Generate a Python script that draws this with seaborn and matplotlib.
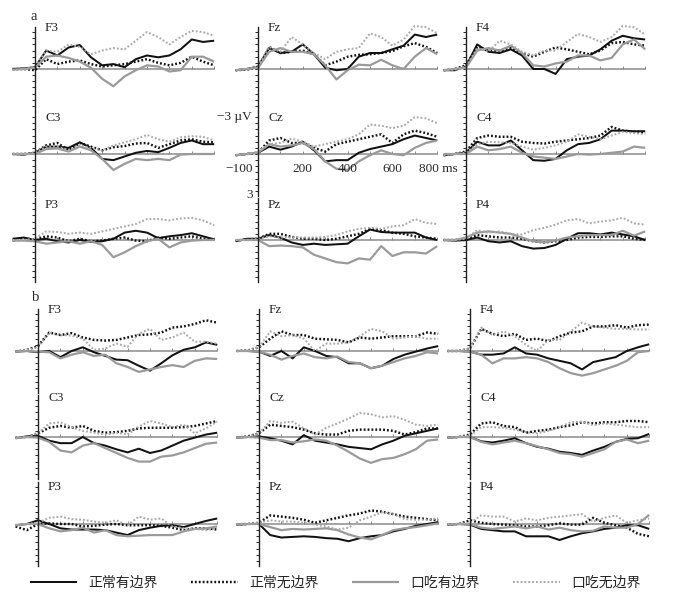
import numpy as np
import pandas as pd
import matplotlib
matplotlib.use("Agg")
import matplotlib.pyplot as plt
import seaborn as sns
from matplotlib.font_manager import FontProperties

# ---------------- data (µV, negative plotted upward) ----------------
times = [-100, -50, 0, 50, 100, 150, 200, 250, 300, 350, 400, 450, 500, 550, 600, 650, 700, 750, 800]
conditions = ["正常有边界", "正常无边界", "口吃有边界", "口吃无边界"]
electrodes = ["F3", "Fz", "F4", "C3", "Cz", "C4", "P3", "Pz", "P4"]
part_labels = ["a", "b"]

# part a
a_F3_nb = [0, -0.05, -0.15, -1.5, -1.1, -1.75, -1.95, -0.95, -0.3, -0.4, -0.15, -0.8, -1.1, -0.95, -1.1, -1.6, -2.4, -2.2, -2.3]
a_F3_nn = [0, 0, 0.1, -0.8, -0.4, -0.6, -0.7, -0.4, -0.2, -0.3, -0.4, -0.6, -0.8, -0.5, -0.3, -0.5, -1.0, -0.6, -0.3]
a_F3_sb = [0.05, 0, -0.1, -1.0, -1.1, -0.9, -0.6, -0.1, 0.8, 1.4, 0.6, 0.1, -0.3, -0.2, 0.2, 0.1, -1.0, -1.0, -0.6]
a_F3_sn = [0.1, 0, -0.2, -1.5, -1.4, -2.0, -1.8, -1.2, -1.5, -1.7, -1.6, -2.3, -3.0, -2.6, -2.0, -2.6, -3.1, -3.0, -2.7]

a_Fz_nb = [0.1, 0, -0.2, -1.7, -1.3, -1.4, -2.0, -1.2, -0.1, 0.1, 0.0, -1.0, -1.3, -1.3, -1.6, -1.9, -2.8, -2.6, -2.8]
a_Fz_nn = [0.1, 0.05, -0.1, -1.8, -1.3, -1.4, -1.5, -1.2, -0.3, -0.6, -1.0, -1.15, -1.2, -1.3, -1.45, -1.85, -2.1, -1.8, -1.3]
a_Fz_sb = [0.1, 0, -0.1, -1.4, -1.7, -1.4, -1.4, -1.2, -0.3, 0.85, 0.1, -0.35, -0.3, -0.75, -0.3, 0.0, -1.0, -1.7, -1.2]
a_Fz_sn = [0.1, 0, -0.2, -1.8, -1.4, -2.6, -2.0, -1.3, -0.8, -1.4, -1.6, -1.7, -2.9, -2.6, -1.9, -2.4, -3.5, -3.4, -2.9]

a_F4_nb = [0.1, 0.1, -0.2, -2.0, -1.4, -1.3, -1.6, -1.1, 0.0, 0.0, 0.4, -0.8, -1.0, -1.1, -1.6, -2.3, -2.7, -2.5, -2.4]
a_F4_nn = [0.1, 0, -0.3, -1.8, -1.5, -1.5, -1.7, -1.3, -1.0, -1.4, -1.75, -1.6, -1.4, -1.2, -1.5, -2.1, -2.2, -2.0, -1.9]
a_F4_sb = [0.1, 0, -0.1, -1.5, -1.7, -1.5, -1.9, -1.3, -0.3, -0.2, -0.45, -0.6, -1.1, -1.1, -0.7, -0.9, -2.0, -2.4, -1.6]
a_F4_sn = [0.1, 0.05, -0.2, -1.7, -1.4, -2.3, -2.0, -1.4, -1.1, -1.5, -1.5, -2.2, -2.85, -2.6, -2.2, -2.6, -3.5, -3.4, -2.8]

a_C3_nb = [0, 0.05, -0.1, -0.6, -0.6, -0.5, -0.95, -0.5, 0.4, 0.5, 0.2, -0.1, -0.25, -0.15, -0.5, -0.9, -1.1, -0.8, -0.8]
a_C3_nn = [0, 0, -0.1, -0.7, -0.9, -0.3, -0.9, -0.6, -0.3, -0.55, -0.65, -0.85, -0.9, -0.5, -0.8, -1.1, -1.2, -1.0, -0.95]
a_C3_sb = [0, 0, 0, -0.4, -0.45, -0.2, -0.6, -0.3, 0.4, 1.3, 0.8, 0.4, 0.5, 0.4, 0.5, 0.05, 0, 0, 0]
a_C3_sn = [0, 0, -0.1, -0.6, -0.6, -0.3, -0.7, -0.5, -0.3, -0.7, -0.95, -1.2, -1.55, -1.2, -1.0, -1.35, -1.45, -1.4, -1.1]

a_Cz_nb = [0.1, 0, -0.1, -0.6, -0.35, -0.6, -1.0, -0.3, 0.6, 0.5, 0.5, -0.1, -0.4, -0.6, -0.8, -1.2, -1.5, -1.3, -1.1]
a_Cz_nn = [0.1, 0, -0.1, -1.1, -1.3, -0.9, -0.9, -0.5, -0.2, -0.8, -1.0, -1.2, -1.4, -1.6, -0.9, -1.6, -1.9, -1.7, -1.4]
a_Cz_sb = [0.1, 0, -0.1, -0.8, -0.6, -0.7, -0.9, -0.4, 0.6, 1.2, 1.3, 0.6, 0.1, -0.3, 0.0, 0.1, -0.5, -0.9, -1.1]
a_Cz_sn = [0.1, 0, -0.2, -0.8, -0.9, -1.25, -1.0, -0.6, -0.8, -1.0, -1.2, -1.6, -2.4, -2.3, -2.1, -2.3, -3.0, -2.9, -2.5]

a_C4_nb = [0.1, 0, -0.1, -1.0, -0.7, -0.7, -1.1, -0.3, 0.5, 0.55, 0.4, -0.3, -0.8, -0.9, -1.2, -1.9, -1.9, -1.85, -1.85]
a_C4_nn = [0.1, 0, -0.2, -1.3, -1.5, -1.4, -1.4, -1.0, -0.9, -0.85, -1.0, -1.1, -1.2, -1.3, -1.5, -2.2, -1.9, -1.8, -1.75]
a_C4_sb = [0, 0, 0, -0.6, -0.3, -0.4, -0.6, -0.1, 0.2, 0.3, 0.4, 0.2, 0, 0.05, 0, -0.1, -0.2, -0.6, -0.5]
a_C4_sn = [0.1, 0, -0.1, -0.8, -1.0, -0.95, -0.9, -0.6, -0.35, -0.5, -0.7, -1.0, -1.6, -1.4, -1.2, -1.5, -1.8, -1.7, -1.6]

a_P3_nb = [-0.1, -0.2, 0, -0.1, 0.1, 0.2, 0, 0.15, 0.1, -0.1, -0.6, -0.75, -0.6, -0.15, -0.3, -0.4, -0.55, -0.3, -0.05]
a_P3_nn = [0.05, -0.1, -0.05, -0.3, -0.2, 0.1, -0.1, 0.1, 0.05, -0.1, -0.2, 0.05, 0.1, -0.2, -0.1, -0.2, -0.3, -0.1, 0]
a_P3_sb = [0.05, 0.05, 0.1, 0.3, 0.2, 0.1, 0.3, 0.1, 0.4, 1.4, 1.0, 0.5, 0.1, -0.1, 0.6, 0.2, 0.05, 0, 0]
a_P3_sn = [0, 0, -0.1, -0.7, -0.65, -0.5, -0.6, -0.5, -0.7, -0.9, -1.1, -1.3, -1.7, -1.7, -1.6, -1.75, -1.8, -1.6, -1.2]

a_Pz_nb = [0.1, -0.1, -0.1, -0.4, -0.2, 0.2, 0.4, 0.3, 0.4, 0.35, 0.3, -0.3, -0.85, -0.65, -0.6, -0.6, -0.6, -0.2, 0]
a_Pz_nn = [0.05, -0.05, -0.1, -0.5, -0.5, -0.25, -0.1, -0.1, 0, -0.1, -0.3, -0.5, -0.9, -0.8, -0.6, -0.5, -0.3, -0.2, -0.1]
a_Pz_sb = [0, 0, 0, 0.5, 0.45, 0.5, 0.6, 1.2, 1.5, 1.8, 1.9, 1.5, 1.6, 0.5, 1.3, 1.0, 1.0, 1.1, 0.5]
a_Pz_sn = [0, 0, -0.1, -0.3, -0.2, -0.2, -0.2, -0.2, -0.25, -0.4, -0.7, -0.9, -1.0, -0.9, -1.1, -1.2, -1.7, -1.4, -1.3]

a_P4_nb = [0, 0.05, 0, -0.2, 0.1, 0.2, 0.1, 0.5, 0.7, 0.65, 0.4, -0.1, -0.55, -0.55, -0.45, -0.6, -0.45, -0.3, 0]
a_P4_nn = [0, 0, 0, -0.4, -0.3, -0.2, -0.2, -0.1, 0.1, 0.2, 0.1, 0, -0.2, -0.25, -0.25, -0.3, -0.3, -0.1, 0]
a_P4_sb = [0, 0, -0.2, -0.6, -0.7, -0.6, -0.5, -0.2, 0.1, 0.2, 0.05, -0.2, -0.3, -0.4, -0.4, -0.4, -0.75, -0.35, -0.7]
a_P4_sn = [0, 0, -0.1, -0.8, -0.6, -0.7, -0.5, -0.45, -0.8, -1.0, -1.25, -1.6, -1.7, -1.35, -1.5, -1.6, -1.8, -1.35, -1.25]

# part b
b_F3_nb = [0.05, 0, 0.1, 0, 0.5, 0, -0.3, 0.1, 0.4, 0.7, 0.75, 1.2, 1.6, 1.0, 0.35, -0.1, -0.3, -0.7, -0.5]
b_F3_nn = [0.05, -0.1, -0.4, -1.5, -1.3, -1.45, -1.1, -0.9, -0.85, -0.9, -1.1, -1.3, -1.35, -1.5, -1.9, -2.0, -2.2, -2.5, -2.3]
b_F3_sb = [0.05, 0, 0.05, 0.1, 0.6, 0.3, 0.1, 0.4, 0.3, 1.0, 1.3, 1.7, 1.5, 1.3, 1.15, 1.3, 0.8, 0.6, 0.65]
b_F3_sn = [0.05, -0.1, -0.3, -1.5, -1.3, -1.25, -1.0, -0.1, -0.2, -0.6, -0.35, -1.4, -1.8, -0.9, -1.1, -1.5, -0.75, -0.75, -0.6]

b_Fz_nb = [0, 0, 0.05, 0.4, 0.0, 0.6, -0.3, 0.0, 0.4, 0.5, 1.0, 1.0, 1.4, 1.2, 0.65, 0.3, 0.05, -0.2, -0.4]
b_Fz_nn = [0, -0.05, -0.3, -1.0, -1.6, -1.3, -1.3, -1.0, -0.95, -0.9, -0.7, -1.1, -1.0, -1.1, -1.2, -1.2, -1.2, -1.5, -1.4]
b_Fz_sb = [0, 0, 0.05, 0.3, 0.7, 0.4, 0.2, 0.5, 0.6, 0.45, 0.9, 1.0, 1.4, 1.2, 0.9, 0.6, 0.4, 0.1, 0.2]
b_Fz_sn = [0, -0.05, -0.3, -1.6, -1.2, -1.3, -1.0, 0.0, -0.6, -0.6, -0.7, -1.2, -1.8, -1.6, -1.0, -1.1, -1.2, -1.0, -1.0]

b_F4_nb = [0, 0, 0.05, 0.3, 0.3, 0.2, -0.3, 0.2, 0.3, 0.6, 0.8, 1.0, 1.5, 0.9, 0.7, 0.5, 0.0, -0.3, -0.55]
b_F4_nn = [0, 0, -0.2, -1.8, -1.4, -1.2, -1.4, -0.9, -1.0, -0.8, -1.2, -1.5, -1.6, -2.0, -2.0, -2.1, -1.9, -2.1, -2.15]
b_F4_sb = [0, 0, 0.05, 0.3, 1.0, 0.6, 0.6, 0.5, 0.6, 0.9, 1.4, 1.8, 2.0, 1.8, 1.5, 1.2, 0.8, 0.1, 0.0]
b_F4_sn = [0, 0, -0.2, -1.9, -1.3, -1.6, -1.2, -0.5, 0.0, -0.9, -0.9, -1.6, -2.3, -2.0, -1.9, -1.8, -1.8, -1.75, -1.75]

b_C3_nb = [0.1, -0.05, -0.1, 0.3, 0.5, 0.5, 0.0, 0.5, 0.7, 1.0, 1.25, 0.95, 1.3, 1.1, 0.7, 0.3, 0.05, -0.2, -0.35]
b_C3_nn = [0.05, 0, -0.3, -0.75, -0.9, -0.75, -0.9, -0.5, -0.35, -0.4, -0.5, -0.7, -0.75, -0.75, -0.75, -0.8, -0.9, -1.1, -1.3]
b_C3_sb = [0.1, 0, 0.05, 0.4, 1.1, 1.25, 0.7, 0.5, 0.9, 1.3, 1.7, 2.0, 2.0, 1.6, 1.5, 1.25, 0.9, 0.55, 0.45]
b_C3_sn = [0.05, 0, -0.3, -1.1, -1.2, -0.8, -0.5, -0.35, -0.2, -0.35, -0.2, -0.85, -1.3, -1.1, -0.8, -1.0, -0.3, -0.7, -1.25]

b_Cz_nb = [0.05, 0, -0.05, 0.1, 0.3, 0.6, -0.15, 0.3, 0.45, 0.6, 0.8, 0.9, 1.0, 0.6, 0.3, -0.1, -0.3, -0.5, -0.7]
b_Cz_nn = [0.05, -0.05, -0.3, -1.0, -0.9, -0.8, -0.6, -0.3, -0.2, -0.2, -0.5, -0.6, -0.6, -0.6, -0.5, -0.2, -0.4, -0.7, -0.7]
b_Cz_sb = [0.05, 0, 0.05, 0.25, 0.25, 0.45, 0.35, 0.2, 0.3, 0.7, 1.2, 1.75, 2.1, 1.8, 1.7, 1.4, 1.0, 0.3, 0.2]
b_Cz_sn = [0.05, 0, -0.3, -1.3, -1.15, -1.25, -0.7, -0.2, -0.75, -1.1, -1.5, -1.95, -1.85, -1.6, -1.7, -1.4, -1.0, -0.9, -1.0]

b_C4_nb = [0.05, 0, 0, 0.35, 0.45, 0.3, 0.1, 0.5, 0.8, 0.95, 1.2, 1.3, 1.45, 1.1, 0.8, 0.4, 0.15, 0.1, -0.25]
b_C4_nn = [0.05, 0, -0.2, -1.1, -1.2, -0.9, -0.8, -0.35, -0.5, -0.6, -0.8, -0.95, -1.2, -1.1, -1.2, -1.2, -1.3, -1.3, -1.2]
b_C4_sb = [0.05, 0, 0, 0.4, 0.6, 0.45, 0.3, 0.5, 0.75, 1.0, 1.3, 1.4, 1.6, 1.3, 1.0, 0.4, 0.2, 0.5, 0.3]
b_C4_sn = [0.05, 0, -0.1, -0.8, -0.8, -0.75, -0.6, -0.4, -0.3, -0.5, -0.8, -1.2, -1.25, -0.95, -1.1, -1.0, -0.9, -0.8, -0.8]

b_P3_nb = [0.1, 0, -0.3, 0, 0.35, 0.45, 0.45, 0.45, 0.5, 0.7, 0.9, 0.5, 0.3, 0.15, 0.1, 0.25, 0, -0.25, -0.45]
b_P3_nn = [0.2, 0.5, 0, -0.05, 0, 0, 0.2, 0.15, 0.05, 0, 0.1, 0.1, 0.1, 0.15, 0.3, 0.5, 0.35, 0.35, 0.45]
b_P3_sb = [0.1, 0, 0, 0.35, 0.6, 0.5, 0.3, 0.7, 0.5, 0.9, 1.0, 0.95, 0.9, 0.9, 0.9, 0.6, 0.4, 0.35, 0.2]
b_P3_sn = [0.05, 0, -0.1, -0.5, -0.6, -0.4, -0.35, -0.2, -0.1, -0.3, 0.1, -0.6, -0.35, -0.45, 0.2, 0.35, 0.4, 0.5, 0.35]

b_Pz_nb = [0.05, 0, 0, 0.9, 1.1, 1.05, 1.0, 1.05, 1.15, 1.2, 1.4, 1.15, 1.0, 0.9, 0.6, 0.4, 0.15, 0, -0.15]
b_Pz_nn = [0.05, 0, -0.1, -0.7, -0.6, -0.5, -0.35, -0.1, -0.3, -0.5, -0.7, -0.85, -1.1, -1.0, -0.8, -0.6, -0.5, -0.4, -0.3]
b_Pz_sb = [0.05, 0, 0, 0.25, 0.5, 0.4, 0.45, 0.4, 0.35, 0.5, 0.85, 1.1, 1.25, 0.9, 0.5, 0.35, 0.25, 0.1, -0.05]
b_Pz_sn = [0, 0, -0.1, -0.3, -0.2, -0.2, -0.1, 0.05, 0.2, 0.45, 0.3, -0.3, -0.6, -0.95, -0.8, -0.4, -0.35, -0.35, -0.45]

b_P4_nb = [0.05, 0, 0.05, 0.4, 0.5, 0.6, 0.6, 1.0, 1.0, 1.0, 1.3, 1.0, 0.75, 0.6, 0.4, 0.3, 0.1, 0.1, 0.4]
b_P4_nn = [0.05, 0, -0.3, -0.1, 0, 0.05, 0.1, 0.2, 0.2, 0.1, -0.05, 0.05, 0.05, -0.5, -0.1, 0.1, 0.3, 0.8, 1.0]
b_P4_sb = [0.05, 0, 0, 0.3, 0.4, 0.3, 0.2, 0.35, 0.2, 0.45, 0.3, 0.5, 0.6, 0.55, 0.2, 0.3, 0.3, 0, -0.75]
b_P4_sn = [0, 0, -0.1, -0.7, -0.6, -0.6, -0.2, -0.45, -0.3, -0.5, -0.6, -0.7, -0.8, -0.2, -0.5, -0.7, -0.1, -0.3, -0.45]

# Cz axis annotation labels (part a)
x_tick_labels = ["200", "400", "600"]
x_tick_values = [200, 400, 600]

g = globals()
panels = {}
for p in part_labels:
    for e in electrodes:
        panels[(p, e)] = [g[f"{p}_{e}_{k}"] for k in ("nb", "nn", "sb", "sn")]

# ---------------- styling / layout ----------------
sns.set_style("white")
plt.rcParams["font.family"] = ["Liberation Serif", "DejaVu Serif"]
plt.rcParams["axes.unicode_minus"] = True

W, H = 700, 608
fig = plt.figure(figsize=(W / 100, H / 100), dpi=100)

palette = {conditions[0]: "#111111", conditions[1]: "#111111",
           conditions[2]: "#9a9a9a", conditions[3]: "#a8a8a8"}
dashes = {conditions[0]: "", conditions[1]: (0.75, 0.85),
          conditions[2]: "", conditions[3]: (0.9, 1.0)}
sizes = {conditions[0]: 1.45, conditions[1]: 1.75,
         conditions[2]: 1.6, conditions[3]: 1.45}

PX_PER_MS = 0.224
PX_PER_UV = 12.3
XL = (-110, 830)
YL = 3.8
row_base = {"a": [69, 154, 240], "b": [351, 437, 524]}
col_axis = {"a": [35, 258, 466], "b": [38, 259, 470]}
label_v = {"a": [-3.35, -2.95, -2.85], "b": [-3.3, -3.15, -3.0]}

serif = ["Liberation Serif", "DejaVu Serif"]
fs = 9.5

for p in part_labels:
    for i, e in enumerate(electrodes):
        r, c = divmod(i, 3)
        ax_x = col_axis[p][c]
        base = row_base[p][r]
        left_px = ax_x + XL[0] * PX_PER_MS
        w_px = (XL[1] - XL[0]) * PX_PER_MS
        top_px = base - YL * PX_PER_UV
        h_px = 2 * YL * PX_PER_UV
        ax = fig.add_axes([left_px / W, 1 - (top_px + h_px) / H, w_px / W, h_px / H])
        ax.patch.set_alpha(0)

        vals = panels[(p, e)]
        df = pd.DataFrame({
            "t": times * 4,
            "v": np.concatenate(vals),
            "cond": np.repeat(conditions, len(times)),
        })
        sns.lineplot(data=df, x="t", y="v", hue="cond", style="cond", size="cond",
                     hue_order=conditions, style_order=conditions, size_order=conditions,
                     palette=palette, dashes=dashes, sizes=sizes, ax=ax, legend=False,
                     estimator=None, sort=False)
        for ln in ax.lines:
            ln.set_solid_capstyle("butt")
            ln.set_dash_capstyle("butt")
            ln.set_solid_joinstyle("round")

        ax.set_xlim(*XL)
        ax.set_ylim(YL, -YL)
        ax.set_xlabel("")
        ax.set_ylabel("")
        for s in ("top", "right"):
            ax.spines[s].set_visible(False)
        ax.spines["left"].set_position(("data", 0))
        ax.spines["left"].set_bounds(-3.4, 3.4)
        ax.spines["left"].set_color("#222222")
        ax.spines["left"].set_linewidth(1.0)
        ax.spines["bottom"].set_position(("data", 0))
        ax.spines["bottom"].set_bounds(0, 800)
        ax.spines["bottom"].set_color("#8a8a8a")
        ax.spines["bottom"].set_linewidth(1.1)
        ax.spines["bottom"].set_zorder(1)
        ax.set_yticks(np.arange(-3, 3.01, 0.5))
        ax.set_xticks(np.arange(100, 801, 100))
        ax.tick_params(axis="y", direction="out", length=2.2, width=0.7,
                       color="#222222", labelleft=False, left=True)
        ax.tick_params(axis="x", direction="in", length=2, width=0.7,
                       color="#8a8a8a", labelbottom=False, bottom=True)

        ax.text(45, label_v[p][r], e, ha="left", va="center",
                fontsize=fs, family=serif)

        if p == "a" and e == "Cz":
            ax.text(-30, -3.0, "−3 µV", ha="right", va="center", fontsize=fs, family=serif)
            ax.text(-25, 1.2, "−100", ha="right", va="center", fontsize=fs, family=serif)
            for lab, tv in zip(x_tick_labels, x_tick_values):
                ax.text(tv, 1.2, lab, ha="center", va="center", fontsize=fs, family=serif)
            ax.text(718, 1.2, "800 ms", ha="left", va="center", fontsize=fs, family=serif)
            ax.text(-25, 3.3, "3", ha="right", va="center", fontsize=fs, family=serif)

        if p == "b" and e == "P4":
            legend_handles = list(ax.lines[:4])

fig.text(34 / W, 1 - 17 / H, "a", ha="center", va="center", fontsize=10.5, family=serif)
fig.text(36 / W, 1 - 298 / H, "b", ha="center", va="center", fontsize=10.5, family=serif)

fig.legend(legend_handles, conditions, loc="center", bbox_to_anchor=(0.479, 1 - 583 / H),
           ncol=4, frameon=False, handlelength=3.4, handletextpad=0.8, columnspacing=2.4,
           prop=FontProperties(family=["Noto Sans CJK SC", "DejaVu Sans"], size=10))

fig.savefig("out.png", dpi=100, facecolor="white")
